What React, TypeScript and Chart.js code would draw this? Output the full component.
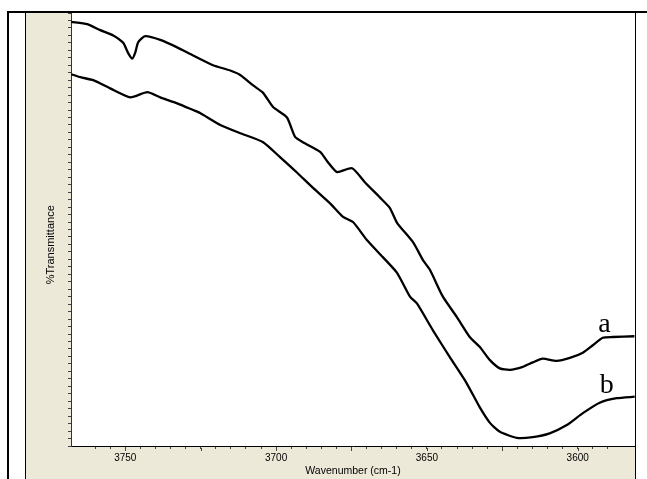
import React, { useEffect, useRef } from "react";
import { Chart, registerables } from "chart.js";

Chart.register(...registerables);

// Curve a (upper spectrum)
const waveA = [
  3767.9, 3762.6, 3758.3, 3754.0, 3750.7, 3749.0, 3747.7, 3746.7, 3745.7, 3743.4,
  3738.4, 3732.8, 3727.5, 3720.9, 3715.2, 3711.9, 3707.6, 3704.3, 3701.0, 3696.4,
  3693.7, 3691.1, 3685.4, 3682.8, 3679.8, 3674.8, 3670.5, 3665.6, 3662.3, 3659.9,
  3654.6, 3651.3, 3649.0, 3644.7, 3640.1, 3635.8, 3632.5, 3629.1, 3625.8, 3622.5,
  3618.2, 3614.9, 3611.6, 3607.0, 3602.6, 3598.3, 3595.0, 3591.7, 3588.4, 3581.2,
];
const transA = [
  56.8, 56.5, 55.7, 55.0, 54.0, 52.6, 51.9, 52.7, 54.1, 54.9,
  54.4, 53.4, 52.3, 51.0, 50.3, 49.7, 48.3, 47.3, 45.4, 44.0,
  41.4, 40.7, 39.4, 38.0, 36.7, 37.2, 35.3, 33.3, 31.9, 29.9,
  27.3, 24.9, 23.6, 20.0, 17.3, 14.6, 13.3, 11.5, 10.4, 10.2,
  10.6, 11.2, 11.7, 11.4, 11.8, 12.5, 13.5, 14.5, 14.6, 14.7,
];

// Curve b (lower spectrum)
const waveB = [
  3767.9, 3764.9, 3760.6, 3755.0, 3748.3, 3742.7, 3738.4, 3732.8, 3727.5, 3725.2,
  3718.5, 3711.9, 3704.3, 3698.7, 3693.0, 3688.1, 3682.1, 3677.8, 3674.5, 3669.9,
  3664.6, 3659.9, 3655.6, 3653.3, 3648.0, 3642.4, 3636.8, 3632.5, 3629.1, 3625.8,
  3620.2, 3614.9, 3609.3, 3603.6, 3598.3, 3592.7, 3587.1, 3581.1,
];
const transB = [
  49.8, 49.4, 49.0, 47.9, 46.7, 47.4, 46.7, 45.9, 45.0, 44.6,
  43.0, 41.9, 40.7, 38.7, 36.6, 34.7, 32.5, 30.7, 30.0, 27.6,
  25.3, 23.2, 20.0, 19.1, 15.5, 11.9, 8.4, 5.2, 3.1, 1.9,
  1.1, 1.2, 1.7, 2.8, 4.4, 5.8, 6.4, 6.6,
];

const xTickLabels = [3750, 3700, 3650, 3600];
const xMin = 3581;
const xMax = 3768;
const yMin = 0;
const yMax = 58;

const curveLabels = ["a", "b"];
const curveLabelWave = [3591.1, 3590.4];
const curveLabelTrans = [15.3, 7.1];

const BEIGE = "#ECE9D8";

const bgPlugin = {
  id: "bgPlugin",
  beforeDraw(chart: any) {
    const { ctx, chartArea, width, height } = chart;
    ctx.save();
    ctx.fillStyle = BEIGE;
    ctx.fillRect(0, 0, width, height);
    ctx.fillStyle = "#ffffff";
    ctx.fillRect(chartArea.left, chartArea.top, chartArea.right - chartArea.left, chartArea.bottom - chartArea.top);
    ctx.restore();
  },
};

// lengthen the major (every 25) x tick marks by a couple of pixels
const majorTickPlugin = {
  id: "majorTickPlugin",
  afterDraw(chart: any) {
    const { ctx } = chart;
    const xs = chart.scales.x;
    ctx.save();
    ctx.strokeStyle = "#444";
    ctx.lineWidth = 1;
    xs.ticks.forEach((t: any) => {
      if (t.value % 25 === 0) {
        const px = Math.round(xs.getPixelForValue(t.value)) + 0.5;
        ctx.beginPath();
        ctx.moveTo(px, xs.top + 2);
        ctx.lineTo(px, xs.top + 5);
        ctx.stroke();
      }
    });
    ctx.restore();
  },
};

const labelPlugin = {
  id: "labelPlugin",
  afterDatasetsDraw(chart: any) {
    const { ctx } = chart;
    const xs = chart.scales.x;
    const ys = chart.scales.y;
    ctx.save();
    ctx.fillStyle = "#000";
    ctx.font = '28px "Liberation Serif", "Times New Roman", serif';
    ctx.textAlign = "center";
    ctx.textBaseline = "alphabetic";
    curveLabels.forEach((t, i) => {
      ctx.fillText(t, xs.getPixelForValue(curveLabelWave[i]), ys.getPixelForValue(curveLabelTrans[i]));
    });
    ctx.restore();
  },
};

export default function App() {
  const ref = useRef<HTMLCanvasElement | null>(null);

  useEffect(() => {
    if (!ref.current) return;
    const dataA = waveA.map((w, i) => ({ x: w, y: transA[i] }));
    const dataB = waveB.map((w, i) => ({ x: w, y: transB[i] }));
    const chart = new Chart(ref.current, {
      type: "line",
      data: {
        datasets: [
          { label: "a", data: dataA, borderColor: "#000", borderWidth: 2.3, pointRadius: 0, tension: 0.2, fill: false },
          { label: "b", data: dataB, borderColor: "#000", borderWidth: 2.3, pointRadius: 0, tension: 0.2, fill: false },
        ],
      },
      options: {
        animation: false,
        responsive: false,
        events: [],
        layout: { padding: 0 },
        plugins: { legend: { display: false }, tooltip: { enabled: false } },
        scales: {
          x: {
            type: "linear",
            reverse: true,
            min: xMin,
            max: xMax,
            afterBuildTicks: (scale: any) => {
              scale.ticks = scale.ticks.filter((t: any) => t.value % 5 === 0);
            },
            afterFit: (scale: any) => {
              scale.height = 33;
            },
            ticks: {
              stepSize: 5,
              autoSkip: false,
              maxRotation: 0,
              padding: 3,
              color: "#000",
              font: { family: '"Liberation Sans", Arial, sans-serif', size: 10 },
              callback: (v: any) => (xTickLabels.includes(Number(v)) ? String(v) : ""),
            },
            grid: { drawOnChartArea: false, drawTicks: true, tickLength: 3, color: "#444" },
            border: { display: true, color: "#000", width: 1 },
            title: {
              display: true,
              text: "Wavenumber (cm-1)",
              color: "#000",
              font: { family: '"Liberation Sans", Arial, sans-serif', size: 10.5 },
              padding: { top: 0, bottom: 2 },
            },
          },
          y: {
            min: yMin,
            max: yMax,
            afterFit: (scale: any) => {
              scale.width = 45;
            },
            ticks: { stepSize: 1, display: false },
            grid: { drawOnChartArea: false, drawTicks: true, tickLength: 3, color: "#444" },
            border: { display: true, color: "#333", width: 1 },
            title: {
              display: true,
              text: "%Transmittance" + "          ",
              color: "#000",
              font: { family: '"Liberation Sans", Arial, sans-serif', size: 11 },
              padding: { top: 18, bottom: 0 },
            },
          },
        },
      },
      plugins: [bgPlugin, majorTickPlugin, labelPlugin],
    });
    return () => chart.destroy();
  }, []);

  return (
    <div style={{ position: "absolute", left: 0, top: 0, width: 647, height: 479, background: "#fff", overflow: "hidden" }}>
      <canvas ref={ref} width={609} height={466} style={{ position: "absolute", left: 26, top: 13, width: 609, height: 466 }} />
      <div style={{ position: "absolute", left: 7, top: 11, width: 640, height: 2, background: "#000" }} />
      <div style={{ position: "absolute", left: 7, top: 11, width: 2, height: 468, background: "#000" }} />
      <div style={{ position: "absolute", left: 25, top: 12, width: 1, height: 467, background: "#000" }} />
      <div style={{ position: "absolute", left: 635, top: 12, width: 1, height: 467, background: "#000" }} />
    </div>
  );
}
